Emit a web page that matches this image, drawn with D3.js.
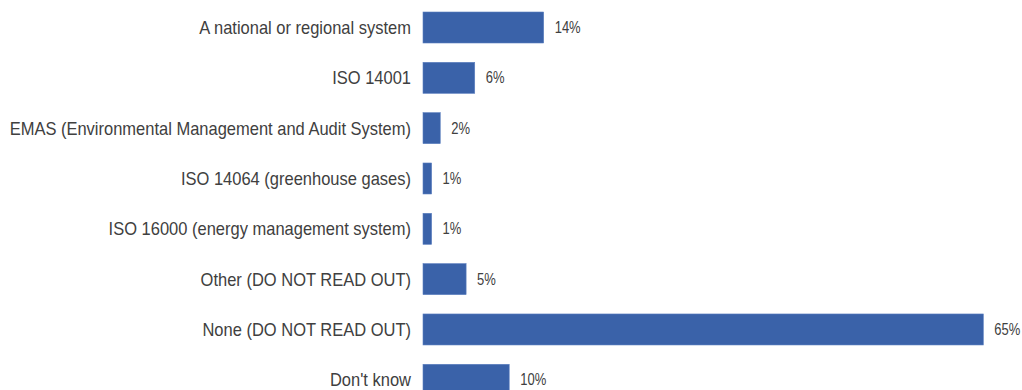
<!DOCTYPE html>
<html><head><meta charset="utf-8">
<script src="https://cdn.jsdelivr.net/npm/d3@7"></script>
<style>body{margin:0;background:#fff;}svg{display:block;}</style>
</head><body><svg id="c" width="1022" height="390"></svg>
<script>
const categories = ["A national or regional system","ISO 14001","EMAS (Environmental Management and Audit System)","ISO 14064 (greenhouse gases)","ISO 16000 (energy management system)","Other (DO NOT READ OUT)","None (DO NOT READ OUT)","Don't know"];
const values = [14, 6, 2, 1, 1, 5, 65, 10];
const valueLabels = ["14%","6%","2%","1%","1%","5%","65%","10%"];

const svg = d3.select("#c");
const x = d3.scaleLinear().domain([0, 65]).range([423, 983.3]);
const y = d3.scaleBand().domain(categories).range([-3.1, 410.4]).paddingInner(0.384).paddingOuter(0.3);

svg.selectAll("rect.bar").data(categories).join("rect")
  .attr("class","bar")
  .attr("x", x(0))
  .attr("y", d => y(d))
  .attr("width", (d,i) => x(values[i]) - x(0))
  .attr("height", y.bandwidth())
  .attr("fill", "#3a62a9")
  .attr("stroke", "#5b7fbf")
  .attr("stroke-width", 0.6);

svg.selectAll("text.cat").data(categories).join("text")
  .attr("class","cat")
  .attr("transform", d => `translate(411,${y(d) + y.bandwidth()/2}) scale(1,1.15)`)
  .attr("dy","0.35em")
  .attr("text-anchor","end")
  .attr("font-family","Liberation Sans, Arial, sans-serif")
  .attr("font-size", 16.5)
  .attr("fill","#404040")
  .text(d => d);

svg.selectAll("text.val").data(categories).join("text")
  .attr("class","val")
  .attr("transform", (d,i) => `translate(${x(values[i]) + 11},${y(d) + y.bandwidth()/2}) scale(1,1.2)`)
  .attr("dy","0.35em")
  .attr("font-family","Liberation Sans, Arial, sans-serif")
  .attr("font-size", 13)
  .attr("fill","#404040")
  .text((d,i) => valueLabels[i]);
</script></body></html>
